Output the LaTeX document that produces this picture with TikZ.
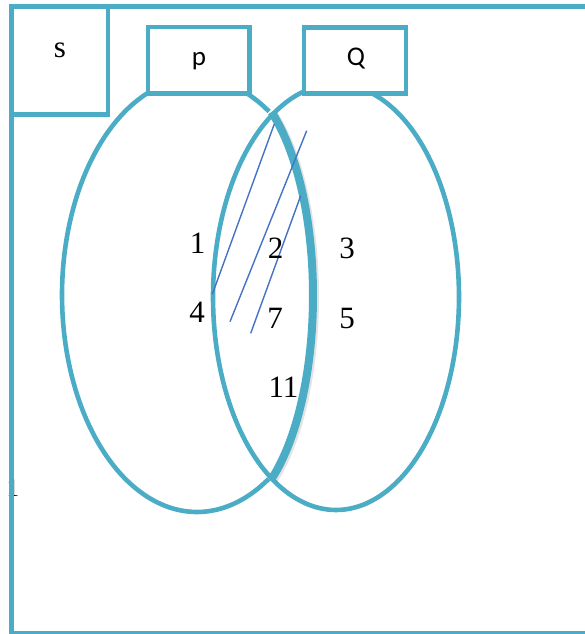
\documentclass[tikz,border=0pt]{standalone}
\usepackage{fontspec}
\setmainfont{Liberation Serif}
\newfontfamily\calibri{Carlito}
\definecolor{venn}{HTML}{4BACC6}
\definecolor{hatch}{HTML}{4472C4}
\tikzset{
  vline/.style={draw=venn, line width=4.6pt},
  boxed/.style={draw=venn, line width=4.6pt, fill=white},
  lens/.style={draw=venn, line width=8pt},
  hatchline/.style={draw=hatch, line width=1.4pt},
  num/.style={anchor=base, inner sep=0pt, font=\fontsize{31}{33}\selectfont},
  lab/.style={anchor=base, inner sep=0pt, font=\calibri\fontsize{27}{29}\selectfont}
}
\begin{document}
\begin{tikzpicture}[x=1pt,y=-1pt]
\useasboundingbox (0,0) rectangle (585,634);
% stray clipped text at the left edge
\node[anchor=base west, inner sep=0pt, font=\fontsize{25}{27}\selectfont] (stray) at (6.5,496) {1};
% left set (without its right edge inside the lens)
\draw[vline] plot[domain=57.9:302.3, samples=140] ({197+135*cos(\x)},{295+217*sin(\x)});
% right set
\draw[vline] plot[domain=0:360, samples=200] ({336+123*cos(\x)},{297+213*sin(\x)});
% thick lens edge with shadow
\draw[draw=gray, opacity=0.22, line width=8pt, shift={(2,1.5)}] plot[domain=-57.7:57.7, samples=100] ({224+89*cos(\x)},{295.5+217*sin(\x)});
\draw[lens] plot[domain=-57.7:57.7, samples=100] ({224+89*cos(\x)},{295.5+217*sin(\x)});
% outer frame
\draw[vline] (600,633.5) -- (11.3,633.5) -- (11.3,6.5) -- (600,6.5);
% label boxes
\draw[boxed] (11.3,6.5) rectangle (108,114.7);
\draw[boxed] (148,27) rectangle (249.5,93.5);
\draw[boxed] (304,27.5) rectangle (406,93.5);
\node[num] (S) at (60,57.3) {\rmfamily s};
\node[lab] (P) at (199,65.5) {p};
\node[lab] (Q) at (356,66) {Q};
% hatching
\coordinate (h1a) at (274.3,124);   \coordinate (h1b) at (212.3,294.3);
\coordinate (h2a) at (306.7,130.7); \coordinate (h2b) at (230,321.7);
\coordinate (h3a) at (300.7,195.7); \coordinate (h3b) at (250.7,333.3);
\draw[hatchline] (h1a) -- (h1b);
\draw[hatchline] (h2a) -- (h2b);
\draw[hatchline] (h3a) -- (h3b);
% elements
\node[num] (n1) at (197.5,253) {1};
\node[num] (n2) at (275.5,258) {2};
\node[num] (n3) at (347,258) {3};
\node[num] (n4) at (197,322) {4};
\node[num] (n7) at (275,328) {7};
\node[num] (n5) at (347,328) {5};
\node[num] (n11) at (283.5,397) {11};
\end{tikzpicture}
\end{document}
